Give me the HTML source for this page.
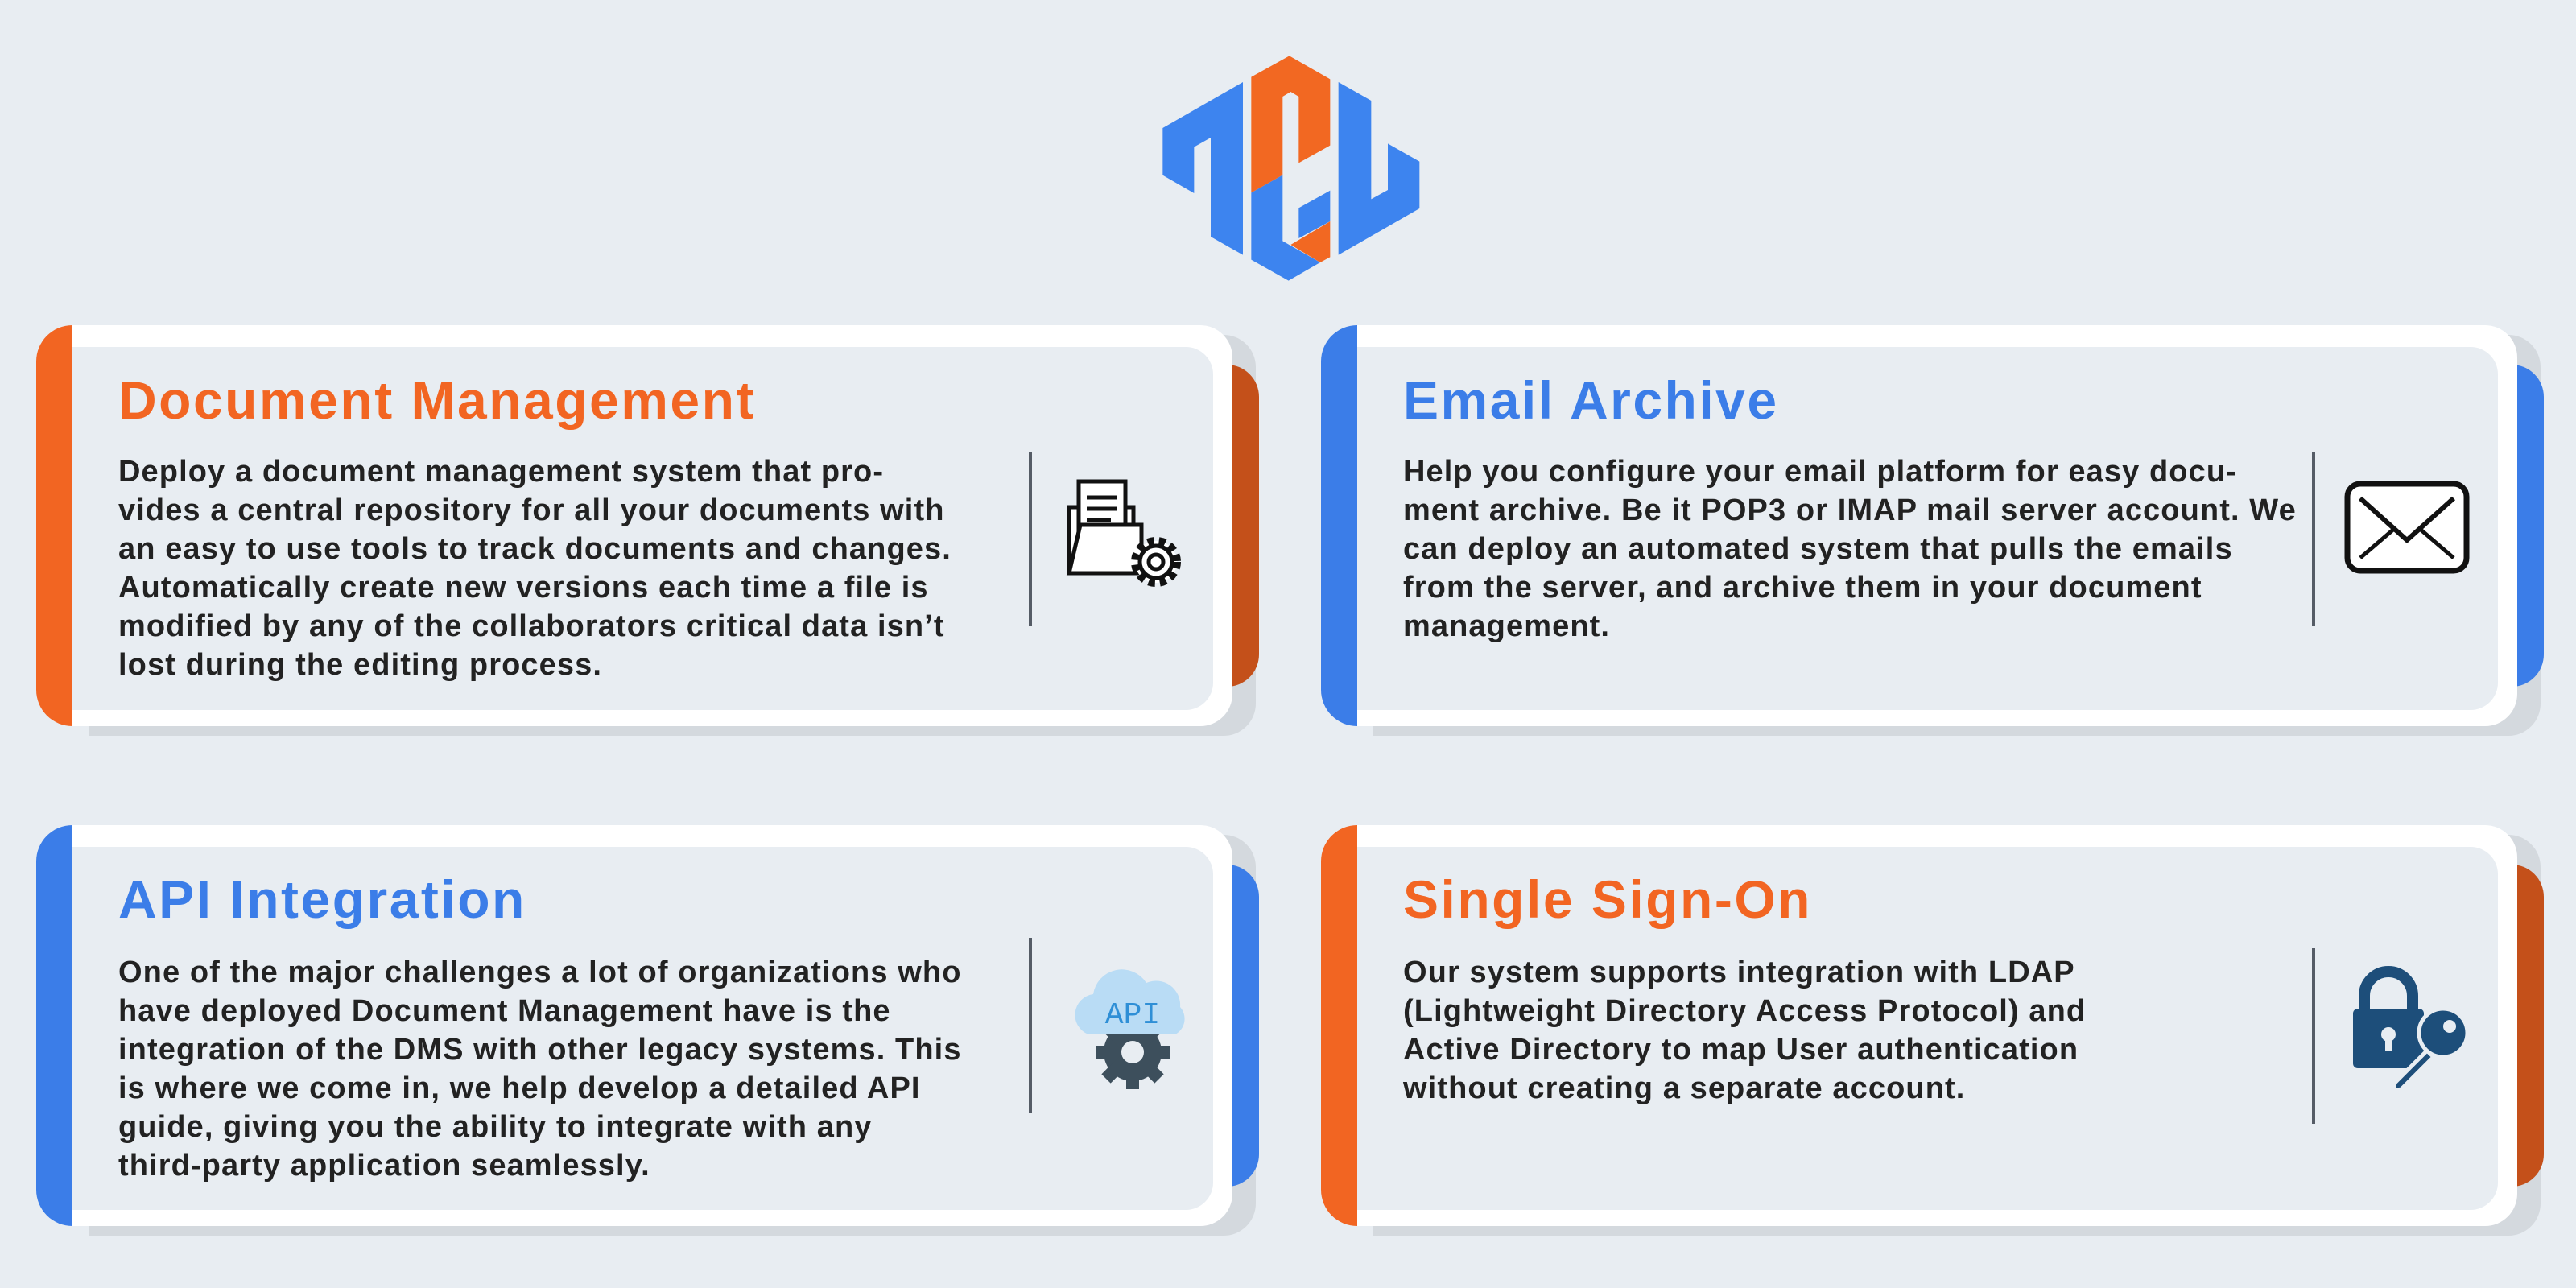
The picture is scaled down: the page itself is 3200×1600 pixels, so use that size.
<!DOCTYPE html>
<html><head><meta charset="utf-8"><style>
*{margin:0;padding:0;box-sizing:border-box}
body{width:3200px;height:1600px;background:#e8edf2;position:relative;overflow:hidden;font-family:"Liberation Sans",sans-serif}
.a{position:absolute}
.sh{background:#d4d9de;border-radius:0 40px 40px 0}
.card{background:#fff;border-radius:0 40px 40px 0}
.panel{background:#e8edf2;border-radius:0 34px 34px 0}
.bar{border-radius:50px 0 0 50px}
.tab{border-radius:0 40px 40px 0}
.t{font-weight:bold;font-size:66px;white-space:nowrap;letter-spacing:2.5px}
.b{font-weight:bold;font-size:38px;line-height:48px;color:#222;white-space:nowrap;letter-spacing:1.1px}
.div{width:4px;background:#555c66}
</style></head><body>
<svg class="a" style="left:1400px;top:40px" width="400" height="330" viewBox="0 0 1200 990">
<g fill="#3d84ef">
<polygon points="133,357 432,186 432,830 312,762 312,393 250,428 250,600 133,533"/>
<polygon points="463,598 580,532 580,778 720,858 602,926 463,848"/>
<polygon points="640,655 757,590 757,705 640,768"/>
<polygon points="788,186 910,255 910,622 972,588 972,415 1090,482 1090,657 788,830"/>
</g>
<g fill="#f26822">
<polygon points="463,167 605,88 757,175 757,422 640,487 640,240 610,222 580,240 580,532 463,598"/>
<polygon points="610,792 757,705 757,838 720,858"/>
</g>
</svg>

<!-- Card 1 -->
<div class="a sh" style="left:110px;top:416px;width:1450px;height:498px"></div>
<div class="a tab" style="left:1500px;top:453px;width:64px;height:400px;background:#c4501a"></div>
<div class="a card" style="left:90px;top:404px;width:1441px;height:498px"></div>
<div class="a panel" style="left:90px;top:431px;width:1417px;height:451px"></div>
<div class="a bar" style="left:45px;top:404px;width:45px;height:498px;background:#f26522"></div>
<div class="a t" style="left:147px;top:459px;color:#f26522">Document Management</div>
<div class="a b" style="left:147px;top:562px">Deploy a document management system that pro-<br>vides a central repository for all your documents with<br>an easy to use tools to track documents and changes.<br>Automatically create new versions each time a file is<br>modified by any of the collaborators critical data isn’t<br>lost during the editing process.</div>
<div class="a div" style="left:1278px;top:561px;height:217px"></div>
<svg class="a" style="left:1318px;top:590px" width="160" height="150" viewBox="0 0 160 150">
<g fill="#fff" stroke="#111" stroke-width="5">
<rect x="10" y="40" width="80" height="80"/>
<rect x="22" y="8" width="58" height="90"/>
<line x1="32" y1="28" x2="70" y2="28"/><line x1="32" y1="42" x2="70" y2="42"/><line x1="32" y1="56" x2="62" y2="56"/>
<polygon points="10,122 24,62 100,62 100,122"/>
<circle cx="118" cy="108" r="26" stroke-width="10" stroke-dasharray="8 6"/>
<circle cx="118" cy="108" r="20"/>
<circle cx="118" cy="108" r="9"/>
</g></svg>

<!-- Card 2 -->
<div class="a sh" style="left:1706px;top:416px;width:1450px;height:498px"></div>
<div class="a tab" style="left:3096px;top:453px;width:64px;height:400px;background:#3b7de8"></div>
<div class="a card" style="left:1686px;top:404px;width:1441px;height:498px"></div>
<div class="a panel" style="left:1686px;top:431px;width:1417px;height:451px"></div>
<div class="a bar" style="left:1641px;top:404px;width:45px;height:498px;background:#3b7de8"></div>
<div class="a t" style="left:1743px;top:459px;color:#3b7de8">Email Archive</div>
<div class="a b" style="left:1743px;top:562px">Help you configure your email platform for easy docu-<br>ment archive. Be it POP3 or IMAP mail server account. We<br>can deploy an automated system that pulls the emails<br>from the server, and archive them in your document<br>management.</div>
<div class="a div" style="left:2872px;top:561px;height:217px"></div>
<svg class="a" style="left:2910px;top:595px" width="160" height="120" viewBox="0 0 160 120">
<rect x="6" y="6" width="148" height="108" rx="16" fill="#fff" stroke="#111" stroke-width="7"/>
<polyline points="22,24 80,76 138,24" fill="none" stroke="#111" stroke-width="6"/>
<line x1="22" y1="98" x2="64" y2="62" stroke="#111" stroke-width="5"/>
<line x1="138" y1="98" x2="96" y2="62" stroke="#111" stroke-width="5"/>
</svg>

<!-- Card 3 -->
<div class="a sh" style="left:110px;top:1037px;width:1450px;height:498px"></div>
<div class="a tab" style="left:1500px;top:1074px;width:64px;height:400px;background:#3b7de8"></div>
<div class="a card" style="left:90px;top:1025px;width:1441px;height:498px"></div>
<div class="a panel" style="left:90px;top:1052px;width:1417px;height:451px"></div>
<div class="a bar" style="left:45px;top:1025px;width:45px;height:498px;background:#3b7de8"></div>
<div class="a t" style="left:147px;top:1079px;color:#3b7de8">API Integration</div>
<div class="a b" style="left:147px;top:1184px">One of the major challenges a lot of organizations who<br>have deployed Document Management have is the<br>integration of the DMS with other legacy systems. This<br>is where we come in, we help develop a detailed API<br>guide, giving you the ability to integrate with any<br>third-party application seamlessly.</div>
<div class="a div" style="left:1278px;top:1165px;height:217px"></div>
<svg class="a" style="left:1322px;top:1195px" width="170" height="160" viewBox="0 0 170 160">
<circle cx="85" cy="112" r="36" fill="#3d4f5c"/>
<g stroke="#3d4f5c" stroke-width="16"><line x1="85" y1="66" x2="85" y2="158"/><line x1="39" y1="112" x2="131" y2="112"/><line x1="52" y1="79" x2="118" y2="145"/><line x1="118" y1="79" x2="52" y2="145"/></g>
<circle cx="85" cy="112" r="14" fill="#e8edf2"/>
<path d="M30,90 a26,26 0 0 1 6,-50 a36,36 0 0 1 66,-14 a30,30 0 0 1 42,30 a22,22 0 0 1 -6,34 z" fill="#b9dcf5"/>
<text x="85" y="76" text-anchor="middle" font-family="Liberation Mono,monospace" font-size="38" fill="#2f8fd6">API</text>
</svg>

<!-- Card 4 -->
<div class="a sh" style="left:1706px;top:1037px;width:1450px;height:498px"></div>
<div class="a tab" style="left:3096px;top:1074px;width:64px;height:400px;background:#c4501a"></div>
<div class="a card" style="left:1686px;top:1025px;width:1441px;height:498px"></div>
<div class="a panel" style="left:1686px;top:1052px;width:1417px;height:451px"></div>
<div class="a bar" style="left:1641px;top:1025px;width:45px;height:498px;background:#f26522"></div>
<div class="a t" style="left:1743px;top:1079px;color:#f26522">Single Sign-On</div>
<div class="a b" style="left:1743px;top:1184px">Our system supports integration with LDAP<br>(Lightweight Directory Access Protocol) and<br>Active Directory to map User authentication<br>without creating a separate account.</div>
<div class="a div" style="left:2872px;top:1178px;height:218px"></div>
<svg class="a" style="left:2915px;top:1195px" width="160" height="160" viewBox="0 0 160 160">
<path d="M22,60 v-18 a30,30 0 0 1 60,0 v18" fill="none" stroke="#1d4e7a" stroke-width="14"/>
<rect x="8" y="58" width="88" height="74" rx="6" fill="#1d4e7a"/>
<circle cx="52" cy="90" r="9" fill="#e8edf2"/><rect x="48" y="92" width="8" height="18" fill="#e8edf2"/>
<g fill="#1d4e7a" stroke="#e8edf2" stroke-width="5">
<path d="M60,150 l40,-40 l8,8 l-40,40 l-10,2 z"/>
<circle cx="120" cy="88" r="30"/>
</g>
<circle cx="128" cy="80" r="8" fill="#e8edf2"/>
</svg>
</body></html>
